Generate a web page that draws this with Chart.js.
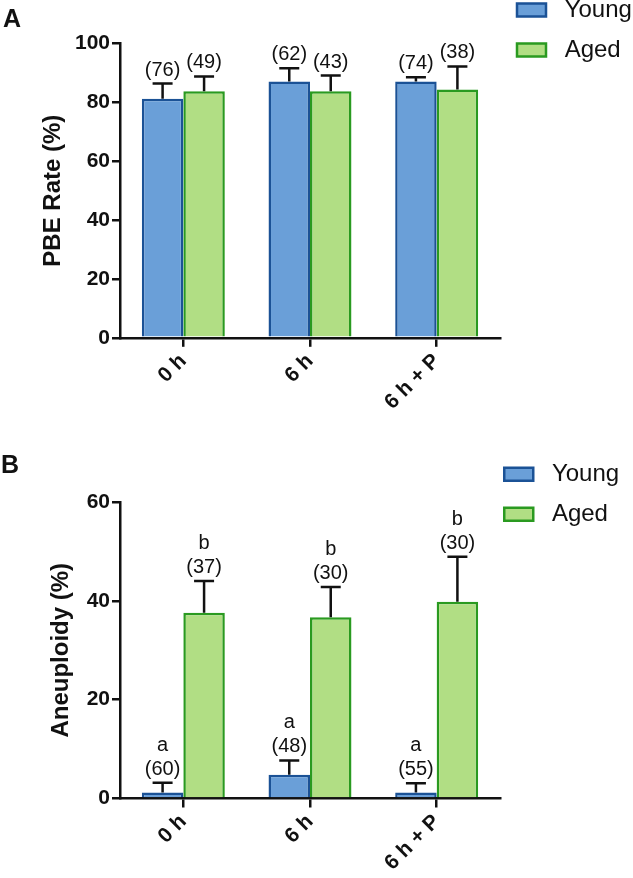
<!DOCTYPE html>
<html>
<head>
<meta charset="utf-8">
<script src="https://cdn.jsdelivr.net/npm/chart.js@4.4.1/dist/chart.umd.min.js"></script>
<style>
  body { margin: 0; background: #fff; width: 633px; height: 878px; overflow: hidden; position: relative; }
  canvas { position: absolute; left: 0; }
  #panelA { top: -19.5px; }
  #panelB { top: 440px; }
</style>
</head>
<body>
<canvas id="panelA" width="633" height="460"></canvas>
<canvas id="panelB" width="633" height="438"></canvas>
<script>
const categories = ['0 h', '6 h', '6 h + P'];
const seriesNames = ['Young', 'Aged'];

// panel A: PBE rate
const pbeYoung = [81.2, 87.1, 87.1];
const pbeYoungErr = [5.2, 4.5, 1.4];
const pbeYoungN = ['(76)', '(62)', '(74)'];
const pbeAged = [83.8, 83.8, 84.4];
const pbeAgedErr = [5.0, 5.3, 7.8];
const pbeAgedN = ['(49)', '(43)', '(38)'];

// panel B: aneuploidy
const aneuYoung = [1.2, 4.8, 1.2];
const aneuYoungErr = [2.0, 2.9, 1.9];
const aneuYoungN = ['(60)', '(48)', '(55)'];
const aneuYoungSig = ['a', 'a', 'a'];
const aneuAged = [37.6, 36.7, 39.8];
const aneuAgedErr = [6.4, 6.1, 9.1];
const aneuAgedN = ['(37)', '(30)', '(30)'];
const aneuAgedSig = ['b', 'b', 'b'];

const family = '"Liberation Sans", Arial, sans-serif';
const ink = '#111';
const blueFill = '#6a9fd8', blueLine = '#1b5296';
const greenFill = '#b1de84', greenLine = '#2a9a20';

Chart.defaults.font.family = family;
Chart.defaults.color = ink;

// whiskers (upper only) with n and significance letters above
const errorBars = {
  id: 'errorBars',
  afterDatasetsDraw(chart) {
    const ctx = chart.ctx;
    const y = chart.scales.y;
    ctx.save();
    chart.data.datasets.forEach((ds, i) => {
      chart.getDatasetMeta(i).data.forEach((bar, j) => {
        const top = y.getPixelForValue(ds.data[j] + ds.errors[j]);
        ctx.strokeStyle = ink;
        ctx.lineWidth = 2.5;
        ctx.beginPath();
        ctx.moveTo(bar.x, bar.y);
        ctx.lineTo(bar.x, top);
        ctx.moveTo(bar.x - 10, top);
        ctx.lineTo(bar.x + 10, top);
        ctx.stroke();
        ctx.fillStyle = ink;
        ctx.font = '20px ' + family;
        ctx.textAlign = 'center';
        ctx.textBaseline = 'alphabetic';
        ctx.fillText(ds.counts[j], bar.x, top - 8);
        if (ds.letters) ctx.fillText(ds.letters[j], bar.x, top - 32);
      });
    });
    ctx.restore();
  }
};

function textWidth(str, font) {
  const c = document.createElement('canvas').getContext('2d');
  c.font = font;
  return c.measureText(str).width;
}

function makePanel(id, p) {
  // legend sits in a fixed 133px strip on the right
  const legendSpace = 133, boxW = 29, boxPad = p.legendPad;
  const natural = boxPad + boxW + 12 + textWidth(' Young', '24px ' + family) + 10;
  const padRight = Math.max(0, legendSpace - natural);

  return new Chart(document.getElementById(id), {
    type: 'bar',
    data: {
      labels: categories,
      datasets: [
        { label: seriesNames[0], data: p.young, errors: p.youngErr, counts: p.youngN, letters: p.youngSig,
          backgroundColor: blueFill, borderColor: blueLine, borderWidth: 2.5 },
        { label: seriesNames[1], data: p.aged, errors: p.agedErr, counts: p.agedN, letters: p.agedSig,
          backgroundColor: greenFill, borderColor: greenLine, borderWidth: 2.5 }
      ]
    },
    options: {
      responsive: false,
      animation: false,
      devicePixelRatio: 1,
      layout: { padding: { left: p.padLeft, right: padRight, top: p.padTop, bottom: 0 } },
      datasets: { bar: { categoryPercentage: 0.655, barPercentage: 1.0 } },
      plugins: {
        tooltip: { enabled: false },
        title: {
          display: true, text: p.letter, align: 'start', color: ink,
          font: { size: 25, weight: 'bold', lineHeight: '13px' },
          padding: { top: p.titleTop, bottom: p.titleBottom }
        },
        legend: {
          position: 'right', align: 'start',
          maxWidth: legendSpace - padRight,
          labels: {
            boxWidth: boxW, boxHeight: 13, padding: boxPad, color: ink,
            font: { size: 24, lineHeight: p.legendLine },
            generateLabels(chart) {
              return Chart.defaults.plugins.legend.labels.generateLabels(chart)
                .map(l => Object.assign(l, { text: [' ' + l.text] }));
            }
          }
        }
      },
      scales: {
        x: {
          offset: true,
          z: 1,
          grid: { drawOnChartArea: false, offset: false, tickLength: 9, color: ink, lineWidth: 2.5 },
          border: { color: ink, width: 2.5 },
          ticks: { color: ink, font: { size: 21, weight: 'bold' }, minRotation: 45, maxRotation: 45, padding: 2 },
          afterFit(s) { s.height = p.xHeight; }
        },
        y: {
          min: 0, max: p.max,
          z: 1,
          ticks: { stepSize: 20, color: ink, font: { size: 21, weight: 'bold' }, padding: 2 },
          grid: { drawOnChartArea: false, tickLength: 8, color: ink, lineWidth: 2.5 },
          border: { color: ink, width: 2.5 },
          title: {
            display: true, text: p.yTitle, color: ink,
            font: { size: 24, weight: 'bold' },
            padding: { top: p.yTitlePad, bottom: 0 }
          },
          afterFit(s) { s.width = p.yWidth; }
        }
      }
    },
    plugins: [errorBars]
  });
}

makePanel('panelA', {
  letter: 'A', yTitle: 'PBE Rate (%)', max: 100,
  young: pbeYoung, youngErr: pbeYoungErr, youngN: pbeYoungN, youngSig: null,
  aged: pbeAged, agedErr: pbeAgedErr, agedN: pbeAgedN, agedSig: null,
  padLeft: 3, padTop: 0, yWidth: 117, yTitlePad: 35.5, xHeight: 103.2,
  titleTop: 33, titleBottom: 16.5, legendPad: 17, legendLine: '23px'
});

makePanel('panelB', {
  letter: 'B', yTitle: 'Aneuploidy (%)', max: 60,
  young: aneuYoung, youngErr: aneuYoungErr, youngN: aneuYoungN, youngSig: aneuYoungSig,
  aged: aneuAged, agedErr: aneuAgedErr, agedN: aneuAgedN, agedSig: aneuAgedSig,
  padLeft: 1, padTop: 18, yWidth: 119, yTitlePad: 45.6, xHeight: 79.5,
  titleTop: 1.5, titleBottom: 29.5, legendPad: 4.25, legendLine: '35.75px'
});
</script>
</body>
</html>
